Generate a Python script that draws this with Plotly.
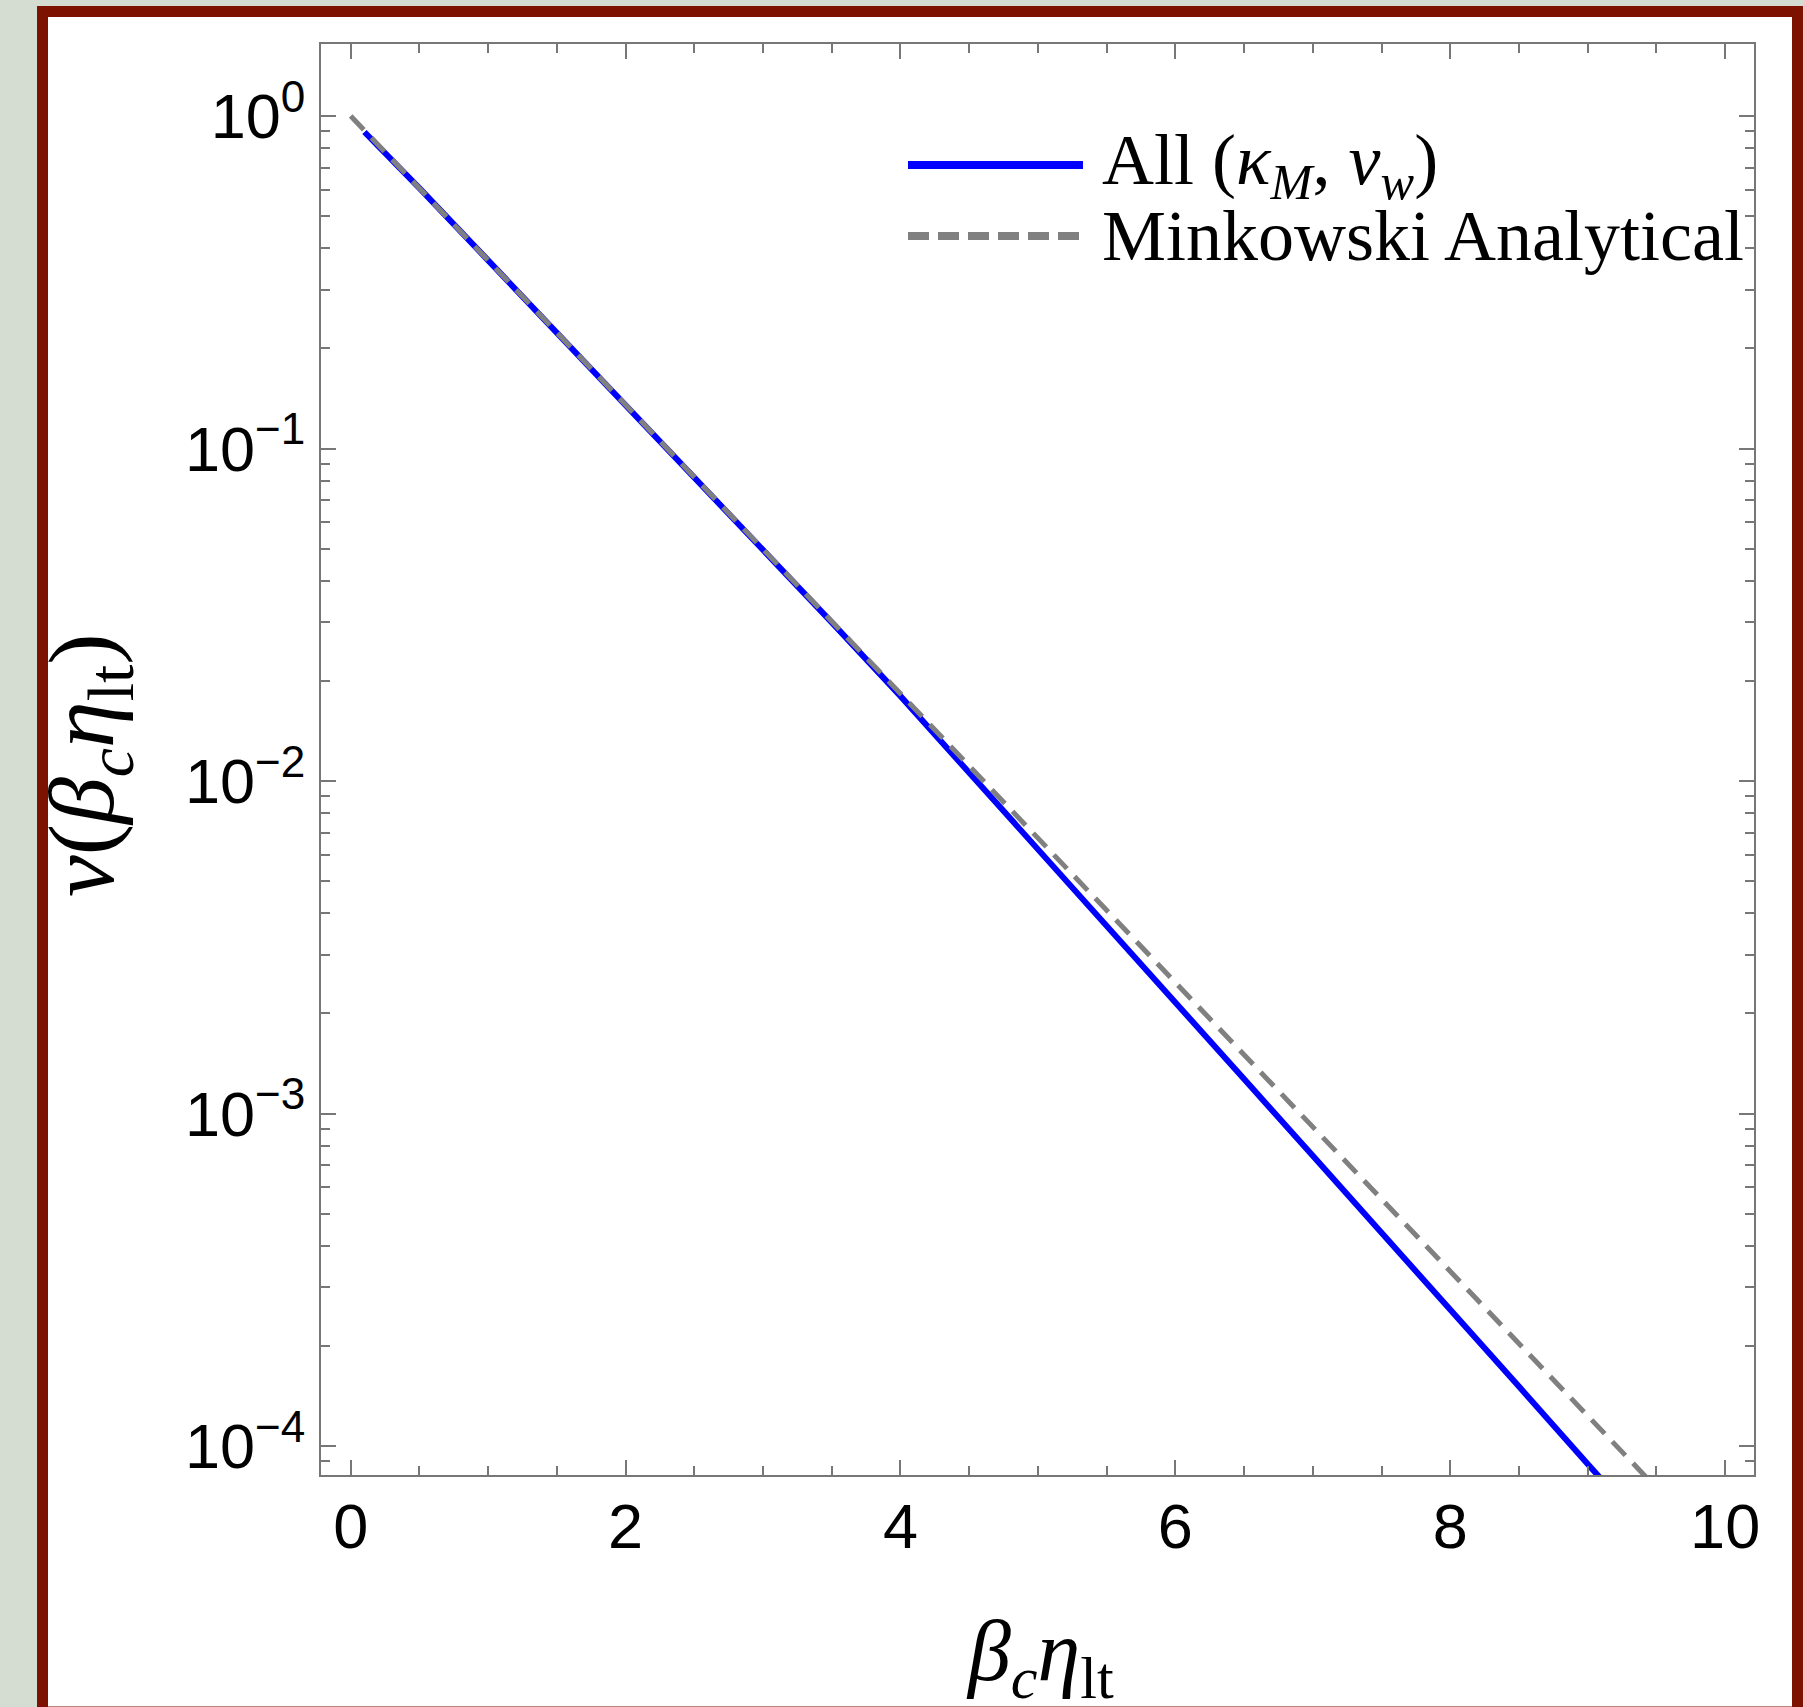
import plotly.graph_objects as go

# ---- data ----
x_all = [0.1, 0.5, 1.0, 1.5, 2.0, 2.5, 3.0, 3.5, 4.0, 4.5, 5.0, 5.5, 6.0, 6.5, 7.0, 7.5, 8.0, 8.5, 9.0, 9.2]
y_all = [0.895, 0.607, 0.368, 0.223, 0.135, 0.0821, 0.0498, 0.0300, 0.0180, 0.01062, 0.00625,
         0.00367, 0.00216, 0.00127, 0.000746, 0.000440, 0.000257, 0.000151, 0.0000883, 0.0000715]

x_mink = [0.0, 1.0, 2.0, 3.0, 4.0, 5.0, 6.0, 7.0, 8.0, 9.0, 9.6]
y_mink = [1.0, 0.368, 0.135, 0.0498, 0.0183, 0.00674, 0.00248, 0.000912, 0.000335, 0.000123, 0.0000677]

x_tickvals = [0, 2, 4, 6, 8, 10]
x_ticktext = ["0", "2", "4", "6", "8", "10"]
x_minor = [0.5, 1, 1.5, 2.5, 3, 3.5, 4.5, 5, 5.5, 6.5, 7, 7.5, 8.5, 9, 9.5]

y_tickvals = [1, 0.1, 0.01, 0.001, 0.0001]
y_ticktext = ["10<sup>0</sup>", "10<sup>\u22121</sup>", "10<sup>\u22122</sup>",
              "10<sup>\u22123</sup>", "10<sup>\u22124</sup>"]
y_minor = [k * 10.0 ** d for d in range(-5, 1) for k in range(2, 10)]

series_names = ["All (<i>\u03ba<sub>M</sub></i>, <i>v<sub>w</sub></i>)", "Minkowski Analytical"]

BLUE = "#0000ff"
GRAY = "#808080"
AXC = "#777777"

fig = go.Figure()
fig.add_trace(go.Scatter(x=x_all, y=y_all, mode="lines", name=series_names[0],
                         line=dict(color=BLUE, width=6), showlegend=False))
fig.add_trace(go.Scatter(x=x_mink, y=y_mink, mode="lines", name=series_names[1],
                         line=dict(color=GRAY, width=5, dash="19px,11px"), showlegend=False))

W, H = 1804, 1707
L, R, T, B = 321, 1754, 44, 1475
pw, ph = R - L, B - T


def px(xp):
    return (xp - L) / pw


def py(yp):
    return (B - yp) / ph


axis_common = dict(showline=True, linecolor=AXC, linewidth=2, mirror="ticks",
                   ticks="inside", tickcolor=AXC, tickwidth=1.5, ticklen=15,
                   showgrid=False, zeroline=False,
                   tickfont=dict(family="Liberation Sans, Arial", size=63, color="black"))

fig.update_xaxes(range=[-0.216, 10.21], tickmode="array", tickvals=x_tickvals, ticktext=x_ticktext,
                 minor=dict(tickvals=x_minor, ticks="inside", ticklen=9, tickcolor=AXC, tickwidth=1.5),
                 ticklabelstandoff=-5, **axis_common)
fig.update_yaxes(type="log", range=[-4.087, 0.2165], tickmode="array", tickvals=y_tickvals,
                 ticktext=y_ticktext,
                 minor=dict(tickvals=y_minor, ticks="inside", ticklen=9, tickcolor=AXC, tickwidth=1.5),
                 ticklabelstandoff=1, **axis_common)

# frame
shapes = [dict(type="rect", xref="paper", yref="paper",
               x0=px(42.5), x1=px(1797.5), y0=py(1712), y1=py(11.5),
               line=dict(color="#7e1200", width=11), fillcolor="white", layer="below")]

# legend samples
leg_x0, leg_x1 = px(908), px(1083)
leg_y = [py(165), py(236)]
shapes.append(dict(type="line", xref="paper", yref="paper", x0=leg_x0, x1=leg_x1,
                   y0=leg_y[0], y1=leg_y[0], line=dict(color=BLUE, width=8)))
shapes.append(dict(type="line", xref="paper", yref="paper", x0=leg_x0, x1=leg_x1,
                   y0=leg_y[1], y1=leg_y[1], line=dict(color=GRAY, width=8, dash="21px,9px")))

serif = "Liberation Serif, Times New Roman, serif"
annotations = [
    dict(text=series_names[0], x=px(1100), y=leg_y[0], xref="paper", yref="paper",
         xanchor="left", yanchor="middle", showarrow=False, font=dict(family=serif, size=72, color="black")),
    dict(text=series_names[1], x=px(1100), y=leg_y[1], xref="paper", yref="paper",
         xanchor="left", yanchor="middle", showarrow=False, font=dict(family=serif, size=72, color="black")),
    dict(text="<i>\u03b2<sub>c</sub>\u03b7</i><sub>lt</sub>", x=px(1040), y=py(1657), xref="paper", yref="paper",
         xanchor="center", yanchor="middle", showarrow=False, font=dict(family=serif, size=86, color="black")),
    dict(text="<i>\u03bd</i>(<i>\u03b2<sub>c</sub>\u03b7</i><sub>lt</sub>)", x=px(88), y=py(765),
         xref="paper", yref="paper", textangle=-90,
         xanchor="center", yanchor="middle", showarrow=False, font=dict(family=serif, size=94, color="black")),
]

fig.update_layout(width=W, height=H, margin=dict(l=L, r=W - R, t=T, b=H - B),
                  paper_bgcolor="#d5dcd2", plot_bgcolor="white",
                  shapes=shapes, annotations=annotations, showlegend=False)

fig.write_html("out.html")
